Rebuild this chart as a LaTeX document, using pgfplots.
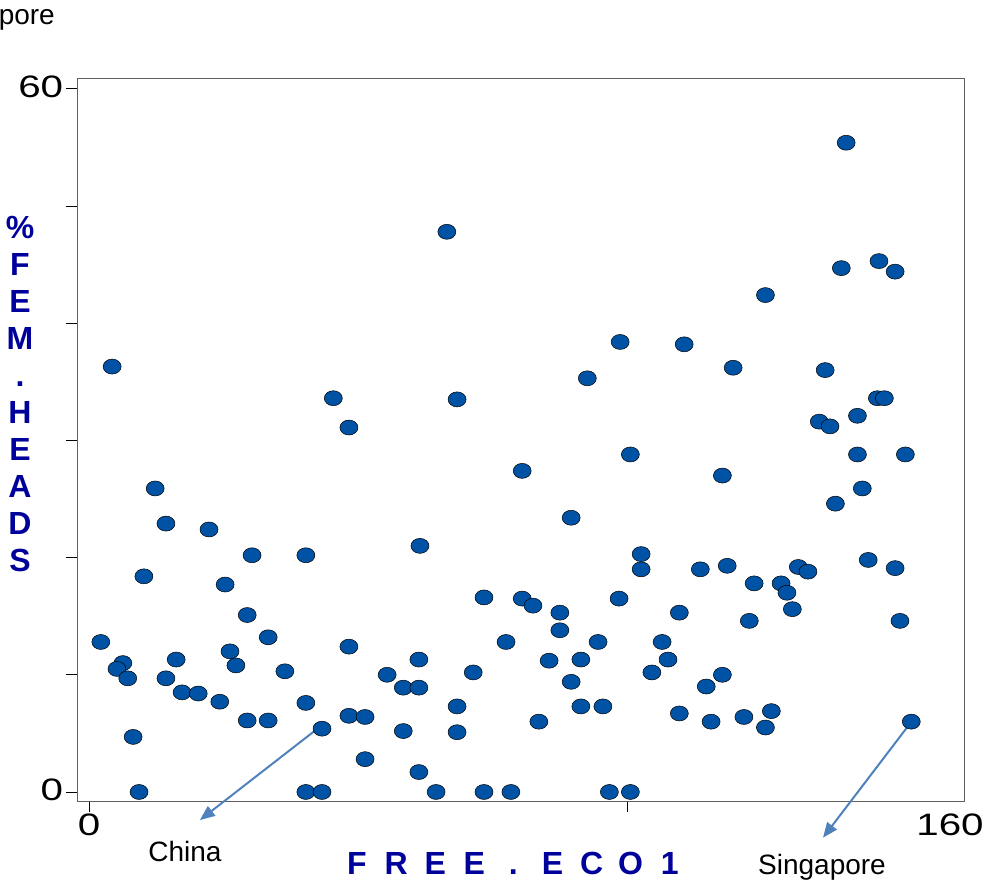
\documentclass[border=0pt]{standalone}
\usepackage{fontspec}
\setmainfont{Liberation Sans}
\usepackage{pgfplots}
\pgfplotsset{compat=1.18}
\usetikzlibrary{arrows.meta}
\definecolor{ptblue}{RGB}{0,82,164}
\definecolor{lblblue}{RGB}{0,0,155}
\definecolor{arrowblue}{RGB}{79,129,189}
\definecolor{axgray}{RGB}{95,95,95}
\pgfplotstableread{
x y
140.7 55.4
66.5 47.8
146.8 45.3
139.8 44.7
149.8 44.4
125.7 42.4
4.3 36.3
98.7 38.4
110.6 38.2
119.7 36.2
136.8 36.0
92.6 35.3
45.4 33.6
68.4 33.5
146.5 33.6
147.8 33.6
48.3 31.1
135.7 31.6
137.7 31.2
142.8 32.1
100.6 28.8
142.8 28.8
151.7 28.8
80.5 27.4
117.7 27.0
12.3 25.9
143.7 25.9
138.7 24.6
89.6 23.4
14.3 22.9
22.3 22.4
61.5 21.0
30.3 20.2
40.3 20.2
102.6 20.3
102.6 19.0
144.8 19.8
10.2 18.4
113.6 19.0
118.6 19.3
131.8 19.2
133.6 18.8
149.8 19.1
25.3 17.7
123.6 17.8
128.6 17.8
129.7 17.0
73.4 16.6
80.5 16.5
82.5 15.9
98.5 16.5
87.5 15.3
87.5 13.8
130.7 15.6
29.4 15.1
109.7 15.3
122.7 14.6
150.7 14.6
33.3 13.2
2.2 12.8
77.5 12.8
94.6 12.8
106.5 12.8
48.3 12.4
26.2 12.0
6.3 11.0
5.2 10.5
7.2 9.7
16.2 11.3
27.3 10.8
36.4 10.3
14.3 9.7
17.3 8.5
20.3 8.4
24.3 7.7
29.4 6.1
33.3 6.1
40.3 7.6
43.3 5.4
48.3 6.5
51.3 6.4
8.2 4.7
51.3 2.8
9.3 0
40.3 0
43.3 0
85.5 11.2
91.4 11.3
107.6 11.3
104.6 10.2
71.4 10.2
61.3 11.3
55.4 10.0
58.4 8.9
61.3 8.9
89.6 9.4
68.4 7.3
91.4 7.3
95.5 7.3
83.6 6.0
58.4 5.2
68.4 5.1
61.3 1.7
64.5 0
73.4 0
78.4 0
96.7 0
100.6 0
114.7 9.0
117.7 10.0
109.7 6.7
115.6 6.0
121.7 6.4
125.7 5.5
126.8 6.9
152.8 6.0
}\datatable
\begin{document}
\begin{tikzpicture}[x=1pt,y=1pt]
\begin{axis}[
  at={(77pt,80pt)}, anchor=south west,
  width=887pt, height=722pt, scale only axis,
  xmin=-2.23, xmax=162.6, ymin=-0.77, ymax=60.84,
  axis line style={axgray, line width=1pt},
  xtick={0,100}, xticklabels={0,},
  extra x ticks={160}, extra x tick labels={160},
  extra x tick style={major tick style={draw=none}},
  ytick={0,10,20,30,40,50,60}, yticklabels={0,,,,,,60},
  tick align=outside, major tick length=11pt,
  xtick pos=bottom, ytick pos=left,
  tick style={black, line width=0.8pt},
  ticklabel style={font=\fontsize{31}{31}\selectfont, xscale=1.3, inner sep=2pt},
  yticklabel style={yshift=2pt},
  /pgf/number format/assume math mode=true,
  clip=false,
]
\addplot[only marks, mark=*, mark size=7.5pt,
  mark options={xscale=1.2, fill=ptblue, draw=black, line width=0.5pt}]
  table[x=x,y=y] {\datatable};
\draw[arrowblue, line width=2pt, -{Triangle[length=15pt,width=12pt]}]
  (axis cs:43.3,5.7) -- (axis cs:20.6,-2.4);
\draw[arrowblue, line width=2pt, -{Triangle[length=15pt,width=12pt]}]
  (axis cs:152.0,5.5) -- (axis cs:136.4,-3.9);
\end{axis}
\node[anchor=base, inner sep=0, font=\fontsize{28}{28}\selectfont] at (185,20) {China};
\node[anchor=base, inner sep=0, font=\fontsize{28}{28}\selectfont] at (822,7) {Singapore};
\node[anchor=base east, inner sep=0, font=\fontsize{28}{28}\selectfont] at (55,856) {pore};
\node[anchor=center, inner sep=0, align=center, text=lblblue,
  font=\fontsize{32}{37.1}\selectfont\bfseries] at (20,487)
  {\%\\F\\E\\M\\.\\H\\E\\A\\D\\S};
\node[anchor=base, inner sep=0, text=lblblue, font=\fontsize{32}{32}\selectfont\bfseries] at (513.4,7)
  {\makebox[39.1pt]{F}\makebox[39.1pt]{R}\makebox[39.1pt]{E}\makebox[39.1pt]{E}\makebox[39.1pt]{.}\makebox[39.1pt]{E}\makebox[39.1pt]{C}\makebox[39.1pt]{O}\makebox[39.1pt]{1}};
\pgfresetboundingbox
\useasboundingbox (0,0) rectangle (987,881);
\end{tikzpicture}
\end{document}
